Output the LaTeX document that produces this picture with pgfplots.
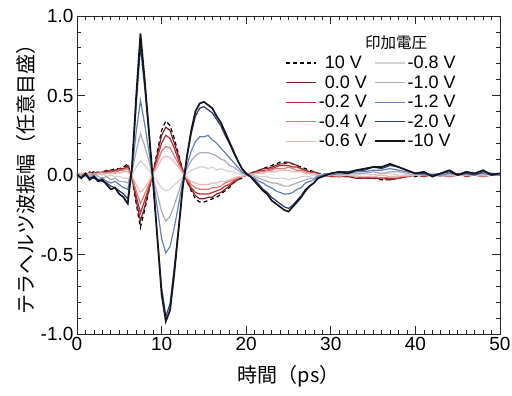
\documentclass[border=0pt]{standalone}
\usepackage{fontspec}
\setmainfont{Liberation Sans}
\newfontfamily\jp{Noto Sans CJK JP}
\usepackage{pgfplots}
\pgfplotsset{compat=1.18}
\usepackage{pgfplotstable}
\definecolor{c00}{RGB}{120,35,40}
\definecolor{c02}{RGB}{185,45,45}
\definecolor{c04}{RGB}{220,120,120}
\definecolor{c06}{RGB}{238,180,180}
\definecolor{c08}{RGB}{210,210,212}
\definecolor{c10}{RGB}{170,172,182}
\definecolor{c12}{RGB}{100,125,185}
\definecolor{c20}{RGB}{40,58,110}
\definecolor{c100}{RGB}{20,20,25}
\pgfplotstableread{
t p10 m00 m02 m04 m06 m08 m10 m12 m20 m100
0.0 0.01 0.00 -0.01 0.01 0.00 0.01 0.00 -0.01 0.01 0.00
0.5 0.00 0.01 0.01 0.00 0.01 -0.01 0.00 -0.01 -0.02 -0.02
1.0 0.01 -0.01 0.00 -0.01 0.00 0.00 -0.01 0.01 0.00 0.01
1.5 0.01 0.02 0.00 0.01 0.01 0.00 -0.01 -0.02 -0.02 -0.03
2.0 0.02 0.00 0.01 0.00 0.00 -0.01 0.01 0.00 -0.02 -0.01
2.5 0.01 0.01 0.02 0.01 0.01 0.00 -0.01 -0.03 -0.03 -0.04
3.0 0.02 0.02 0.01 0.02 0.00 0.01 -0.02 -0.02 -0.04 -0.03
3.5 0.02 0.03 0.02 0.01 0.01 -0.01 -0.01 -0.04 -0.05 -0.06
4.0 0.03 0.02 0.03 0.02 0.01 0.00 -0.03 -0.05 -0.07 -0.09
4.5 0.04 0.03 0.02 0.01 0.02 -0.01 -0.02 -0.04 -0.08 -0.08
5.0 0.04 0.04 0.03 0.03 0.01 -0.01 -0.04 -0.06 -0.10 -0.12
5.5 0.05 0.04 0.04 0.03 0.02 -0.02 -0.04 -0.08 -0.12 -0.14
6.0 0.07 0.06 0.05 0.04 0.02 -0.02 -0.05 -0.09 -0.15 -0.18
6.5 -0.02 -0.02 -0.01 -0.01 -0.01 0.00 0.02 0.03 0.04 0.05
7.0 -0.18 -0.16 -0.13 -0.10 -0.06 0.05 0.15 0.27 0.44 0.50
7.5 -0.33 -0.29 -0.24 -0.18 -0.11 0.09 0.26 0.47 0.81 0.89
8.0 -0.22 -0.20 -0.16 -0.12 -0.08 0.06 0.18 0.32 0.55 0.60
8.5 -0.10 -0.09 -0.08 -0.06 -0.04 0.03 0.09 0.15 0.26 0.28
9.0 0.02 0.02 0.01 0.01 0.01 -0.01 -0.02 -0.03 -0.05 -0.05
9.5 0.15 0.13 0.11 0.08 0.05 -0.04 -0.12 -0.21 -0.38 -0.40
10.0 0.28 0.25 0.20 0.15 0.10 -0.08 -0.23 -0.40 -0.71 -0.75
10.5 0.34 0.30 0.25 0.18 0.12 -0.10 -0.29 -0.49 -0.89 -0.92
11.0 0.31 0.28 0.23 0.17 0.11 -0.09 -0.26 -0.45 -0.81 -0.85
11.5 0.23 0.20 0.17 0.12 0.08 -0.06 -0.19 -0.33 -0.58 -0.62
12.0 0.13 0.12 0.09 0.07 0.05 -0.04 -0.11 -0.19 -0.33 -0.35
12.5 0.03 0.03 0.02 0.02 0.01 -0.01 -0.02 -0.04 -0.07 -0.08
13.0 -0.04 -0.04 -0.03 -0.02 -0.02 0.01 0.04 0.06 0.11 0.12
13.5 -0.10 -0.09 -0.08 -0.06 -0.04 0.03 0.09 0.15 0.26 0.28
14.0 -0.15 -0.13 -0.11 -0.08 -0.05 0.04 0.12 0.21 0.37 0.40
14.5 -0.17 -0.15 -0.12 -0.09 -0.06 0.05 0.14 0.24 0.42 0.45
15.0 -0.17 -0.15 -0.12 -0.09 -0.06 0.05 0.14 0.24 0.43 0.46
15.5 -0.16 -0.14 -0.12 -0.09 -0.06 0.04 0.14 0.25 0.41 0.44
16.0 -0.15 -0.14 -0.11 -0.08 -0.05 0.05 0.13 0.22 0.39 0.42
16.5 -0.14 -0.12 -0.10 -0.08 -0.05 0.03 0.12 0.20 0.35 0.37
17.0 -0.12 -0.11 -0.09 -0.07 -0.04 0.04 0.10 0.17 0.31 0.33
17.5 -0.10 -0.09 -0.07 -0.05 -0.04 0.03 0.09 0.14 0.25 0.27
18.0 -0.08 -0.07 -0.06 -0.04 -0.03 0.02 0.06 0.11 0.20 0.21
18.5 -0.05 -0.05 -0.04 -0.03 -0.02 0.02 0.05 0.08 0.14 0.15
19.0 -0.03 -0.03 -0.02 -0.02 -0.01 0.01 0.03 0.05 0.09 0.09
19.5 -0.02 -0.01 -0.01 -0.01 -0.01 0.00 0.01 0.02 0.04 0.04
20.0 0.00 0.00 0.00 0.00 0.00 0.00 0.01 0.00 0.01 0.01
20.5 0.01 0.01 0.00 0.01 0.00 0.00 0.00 -0.01 -0.01 -0.01
21.0 0.02 0.02 0.01 0.01 0.01 0.00 -0.01 -0.02 -0.03 -0.04
21.5 0.03 0.03 0.02 0.02 0.01 -0.01 -0.02 -0.04 -0.06 -0.07
22.0 0.04 0.04 0.03 0.02 0.01 -0.01 -0.03 -0.05 -0.09 -0.10
22.5 0.05 0.04 0.03 0.03 0.02 -0.01 -0.04 -0.07 -0.11 -0.12
23.0 0.06 0.05 0.04 0.03 0.02 -0.02 -0.05 -0.08 -0.14 -0.16
23.5 0.07 0.06 0.05 0.04 0.02 -0.02 -0.05 -0.10 -0.16 -0.18
24.0 0.08 0.07 0.06 0.04 0.03 -0.02 -0.06 -0.11 -0.18 -0.20
24.5 0.08 0.07 0.06 0.04 0.03 -0.02 -0.07 -0.12 -0.20 -0.22
25.0 0.08 0.08 0.06 0.05 0.03 -0.03 -0.07 -0.12 -0.21 -0.23
25.5 0.07 0.07 0.05 0.04 0.02 -0.02 -0.06 -0.11 -0.19 -0.20
26.0 0.06 0.06 0.05 0.03 0.02 -0.02 -0.05 -0.09 -0.16 -0.17
26.5 0.05 0.04 0.04 0.03 0.02 -0.01 -0.04 -0.08 -0.13 -0.14
27.0 0.04 0.03 0.03 0.02 0.01 -0.01 -0.03 -0.05 -0.09 -0.10
27.5 0.03 0.02 0.02 0.01 0.01 -0.01 -0.02 -0.04 -0.07 -0.07
28.0 0.02 0.02 0.01 0.01 0.01 0.00 -0.02 -0.03 -0.05 -0.05
28.5 0.01 0.01 0.01 0.00 0.00 0.00 0.00 -0.01 -0.02 -0.02
29.0 0.01 0.00 0.00 0.00 0.00 0.00 -0.01 0.00 -0.01 -0.01
29.5 0.00 0.00 0.00 -0.01 0.00 0.00 0.00 0.01 0.00 0.00
30 0.00 -0.01 -0.01 0.00 0.00 0.00 0.01 0.00 0.01 0.01
31 -0.01 -0.01 -0.01 -0.01 0.00 0.00 0.00 0.01 0.02 0.02
32 -0.01 -0.01 0.00 0.00 0.00 0.00 0.01 0.01 0.02 0.01
33 -0.01 -0.02 -0.01 -0.01 -0.01 0.00 0.01 0.02 0.03 0.03
34 -0.02 -0.02 -0.02 -0.01 -0.01 0.01 0.01 0.02 0.03 0.04
35 -0.02 -0.02 -0.01 -0.01 -0.01 0.00 0.02 0.03 0.05 0.05
36 -0.03 -0.02 -0.02 -0.02 0.00 0.01 0.01 0.03 0.04 0.05
37 -0.03 -0.03 -0.02 -0.01 -0.01 0.01 0.02 0.04 0.06 0.07
38 -0.02 -0.02 -0.02 -0.01 -0.01 0.00 0.02 0.03 0.05 0.05
39 -0.01 -0.01 -0.01 -0.01 0.00 0.00 0.01 0.02 0.03 0.03
40 -0.01 0.00 0.00 0.00 0.00 0.00 0.00 0.01 0.01 0.01
41 0.00 0.00 -0.01 0.00 0.00 0.00 0.01 0.00 0.01 0.02
42 0.00 0.01 0.00 0.00 0.00 0.01 0.00 0.00 0.00 -0.01
43 0.01 0.00 0.00 0.00 0.01 0.00 -0.01 0.00 0.01 0.01
44 -0.01 -0.01 0.00 -0.01 0.00 0.00 0.01 0.01 0.02 0.03
45 0.00 0.00 0.01 0.00 0.00 0.00 0.00 0.00 0.00 0.00
46 0.00 0.00 -0.01 0.00 0.00 0.00 0.00 0.01 0.01 0.02
47 0.01 0.00 0.00 0.00 0.01 0.00 0.00 0.01 0.00 0.01
48 0.00 -0.01 0.00 -0.01 0.00 0.00 0.01 0.01 0.02 0.03
49 0.00 0.00 0.00 0.00 0.00 0.00 0.00 0.00 0.01 0.00
50 0.00 0.00 0.00 0.00 0.00 0.00 0.00 0.00 0.01 0.01
}\data
\begin{document}
\begin{tikzpicture}
\path[use as bounding box] (-77pt,-62pt) rectangle (435pt,334pt);
\begin{axis}[
  width=423pt, height=318pt, scale only axis,
  xmin=0, xmax=50, ymin=-1, ymax=1,
  xtick={0,10,20,30,40,50}, ytick={-1,-0.5,0,0.5,1},
  minor x tick num=9, minor y tick num=4,
  tick align=inside, major tick length=8pt, minor tick length=4pt,
  axis line style={line width=0.8pt, black!85},
  every tick/.style={black!85, line width=0.7pt},
  /pgf/number format/assume math mode=true,
  yticklabel style={/pgf/number format/fixed, /pgf/number format/fixed zerofill, /pgf/number format/precision=1},
  ticklabel style={font=\fontsize{19}{19}\selectfont},
  xlabel={\jp 時間（ps）}, ylabel={\jp テラヘルツ波振幅（任意目盛）},
  label style={font=\fontsize{20}{21}\selectfont},
  xlabel style={yshift=-8pt},
  ylabel style={yshift=-2pt},
  legend columns=5, transpose legend,
  legend cell align=left,
  legend image code/.code={\draw[#1] (0pt,0pt) -- (30pt,0pt);},
  legend style={at={(axis cs:24.3,0.775)}, anchor=north west, draw=none, fill=none,
    font=\fontsize{18}{18}\selectfont, row sep=1.5pt,
    /tikz/every odd column/.append style={column sep=0pt},
    /tikz/every even column/.append style={column sep=5pt}},
  every axis plot/.append style={line width=1.2pt},
]
\addplot[black, dash pattern=on 4pt off 3pt] table[x=t, y=p10] {\data};
\addlegendentry{\hphantom{-}10 V}
\addplot[c00] table[x=t, y=m00] {\data};
\addlegendentry{\hphantom{-}0.0 V}
\addplot[c02] table[x=t, y=m02] {\data};
\addlegendentry{-0.2 V}
\addplot[c04] table[x=t, y=m04] {\data};
\addlegendentry{-0.4 V}
\addplot[c06] table[x=t, y=m06] {\data};
\addlegendentry{-0.6 V}
\addplot[c08] table[x=t, y=m08] {\data};
\addlegendentry{-0.8 V}
\addplot[c10] table[x=t, y=m10] {\data};
\addlegendentry{-1.0 V}
\addplot[c12] table[x=t, y=m12] {\data};
\addlegendentry{-1.2 V}
\addplot[c20] table[x=t, y=m20] {\data};
\addlegendentry{-2.0 V}
\addplot[c100, line width=1.7pt] table[x=t, y=m100] {\data};
\addlegendentry{-10 V}
\end{axis}
\node[inner sep=0pt, font=\fontsize{15.5}{16}\selectfont] at (319pt,291pt) {\jp 印加電圧};
\end{tikzpicture}
\end{document}
